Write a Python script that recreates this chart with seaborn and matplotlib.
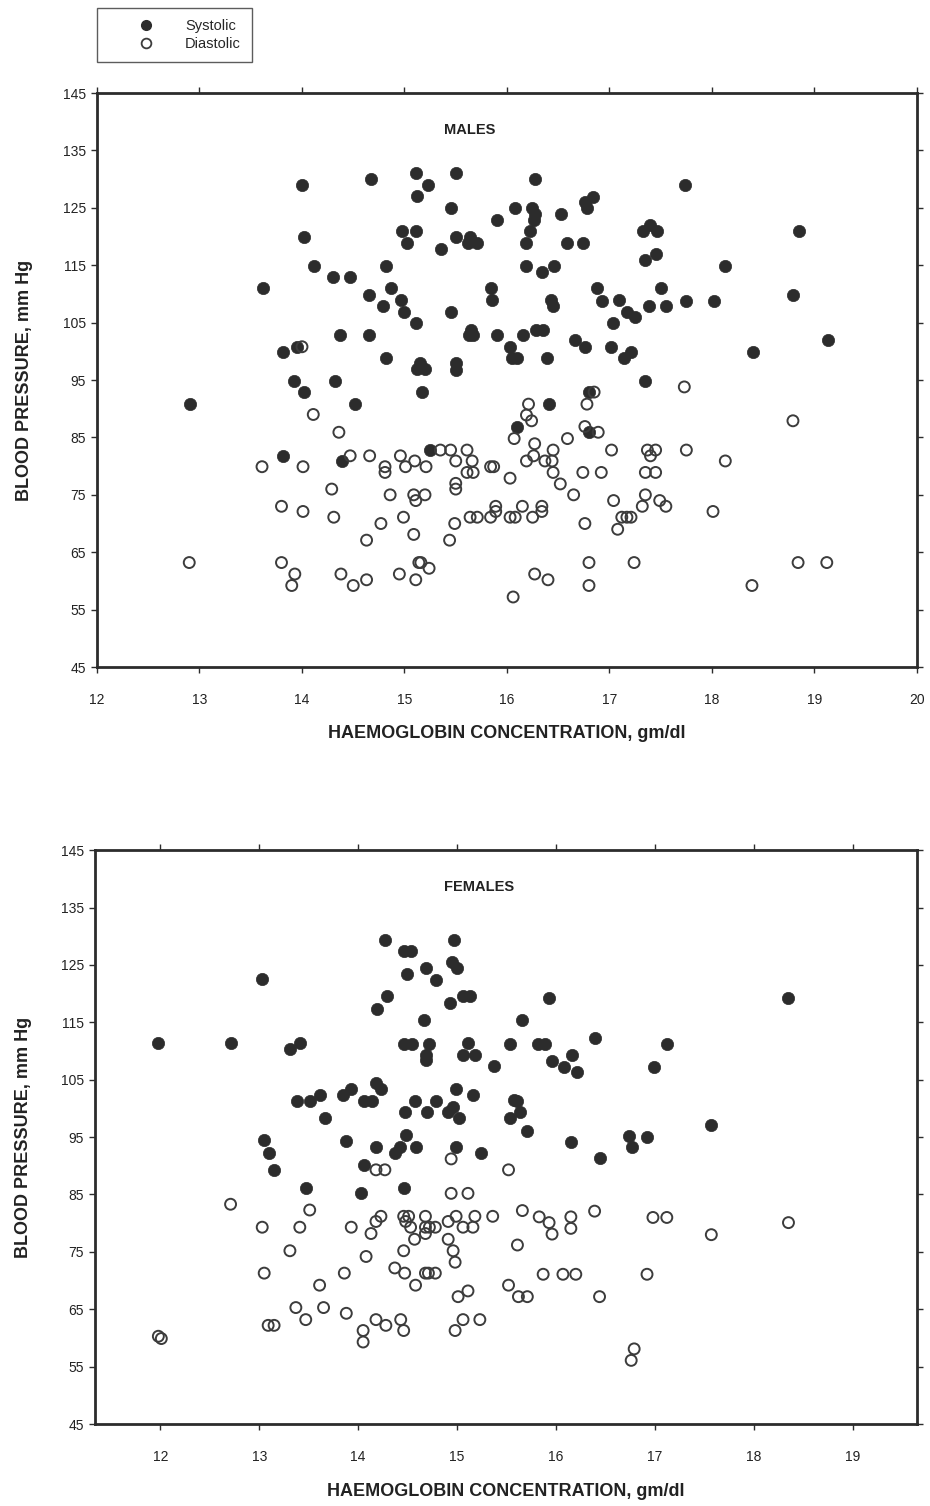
import pandas as pd
import matplotlib.pyplot as plt
import seaborn as sns
from matplotlib.lines import Line2D

# ---- MALES ----
male_sys_hb = [14.00, 14.67, 15.11, 15.23, 15.12, 15.50, 15.45, 16.08, 15.90, 14.98, 15.11, 15.02,
               15.36, 15.50, 15.64, 15.62, 15.71, 14.02, 14.12, 14.30, 14.47, 14.82, 13.62, 14.65,
               14.87, 14.79, 14.97, 15.00, 15.11, 15.45, 15.84, 15.85, 14.37, 14.65, 15.65, 15.63,
               15.67, 15.90, 13.81, 13.95, 14.82, 15.12, 15.20, 15.15, 15.50, 15.50, 16.03, 16.05,
               13.92, 14.32, 14.02, 15.17, 12.91, 14.52,
               16.27, 17.74, 16.24, 16.27, 16.26, 16.53, 16.76, 16.84, 16.78, 16.22, 16.19, 16.59,
               16.74, 17.33, 17.40, 17.46, 17.35, 17.45, 18.85, 18.13, 16.19, 16.34, 16.46, 16.88,
               16.93, 17.09, 17.17, 17.25, 17.50, 17.39, 17.55, 17.75, 18.02, 18.79, 16.43, 16.45,
               17.03, 16.28, 16.35, 16.16, 16.10, 16.39, 16.66, 16.76, 17.01, 17.14, 17.21, 18.40,
               19.13, 17.35, 16.80, 16.41,
               13.81, 14.39, 15.25, 16.10, 16.80]
male_sys_bp = [129.0, 130.0, 131.0, 129.0, 127.0, 131.0, 124.9, 124.9, 122.9, 121.0, 121.0, 118.9,
               117.9, 119.9, 119.9, 118.8, 118.8, 119.9, 114.9, 112.9, 112.9, 114.9, 111.0, 109.9,
               111.0, 107.9, 108.9, 106.9, 104.9, 106.8, 111.0, 108.9, 102.8, 102.8, 103.7, 102.8,
               102.8, 102.8, 99.8, 100.8, 98.8, 97.0, 97.0, 97.9, 97.9, 96.7, 100.8, 98.8,
               94.9, 94.9, 92.9, 92.9, 90.8, 90.8,
               130.0, 129.0, 124.9, 124.0, 122.9, 123.9, 126.1, 126.9, 124.9, 121.0, 118.9, 118.9,
               118.9, 121.0, 122.0, 121.0, 115.9, 116.9, 121.0, 114.9, 114.9, 113.9, 114.9, 111.0,
               108.8, 108.9, 106.9, 105.9, 111.0, 107.9, 107.9, 108.8, 108.8, 109.8, 108.9, 107.9,
               104.9, 103.7, 103.7, 102.8, 98.8, 98.8, 101.9, 100.8, 100.8, 98.8, 99.8, 99.8,
               101.9, 94.9, 92.9, 90.8,
               81.8, 80.9, 82.8, 86.9, 85.9]

male_dia_hb = [14.00, 16.21, 16.78, 17.73, 16.85,
               14.11, 14.36, 14.47, 14.66, 13.61, 14.01, 14.81, 14.81, 14.96, 15.01, 15.10, 15.21,
               15.35, 15.45, 15.61, 15.50, 15.66, 15.61, 15.67, 15.84, 15.87, 16.03, 16.07, 14.29,
               14.86, 15.09, 15.11, 15.20, 15.50, 15.50, 13.80, 14.01, 14.31, 14.77, 14.99, 15.09,
               15.49, 15.44, 15.64, 15.71, 15.84, 15.89, 15.89, 16.03, 16.08, 14.63, 12.90, 13.80,
               13.93, 13.90, 14.38, 14.50, 14.63, 14.95, 15.11, 15.14, 15.16, 15.24, 16.06,
               18.79, 16.19, 16.24, 16.76, 16.89, 16.27, 16.59, 16.45, 16.26, 16.19, 16.37, 16.44,
               17.02, 17.37, 17.45, 17.40, 17.75, 18.13, 16.45, 16.52, 16.74, 16.92, 17.35, 17.45,
               16.65, 17.04, 17.35, 17.49, 17.55, 17.32, 16.15, 16.34, 16.34, 16.25, 16.76, 17.08,
               17.12, 17.17, 17.21, 18.01, 16.80, 17.24, 18.84, 19.12, 16.27, 16.40, 16.80, 18.39]
male_dia_bp = [100.8, 90.8, 90.8, 93.8, 92.9,
               89.0, 85.9, 81.8, 81.8, 79.9, 79.9, 79.9, 78.9, 81.8, 79.9, 80.9, 79.9,
               82.8, 82.8, 82.8, 80.9, 80.9, 78.9, 78.9, 79.9, 79.9, 77.9, 84.8, 76.0,
               75.0, 75.0, 74.0, 75.0, 77.0, 76.0, 73.0, 72.1, 71.1, 70.0, 71.1, 68.1,
               70.0, 67.1, 71.1, 71.1, 71.1, 73.0, 72.1, 71.1, 71.1, 67.1, 63.2, 63.2,
               61.2, 59.2, 61.2, 59.2, 60.2, 61.2, 60.2, 63.2, 63.2, 62.2, 57.2,
               87.9, 88.9, 87.9, 86.9, 85.9, 83.9, 84.8, 82.8, 81.8, 80.9, 80.9, 80.9,
               82.8, 82.8, 82.8, 81.8, 82.8, 80.9, 78.9, 76.9, 78.9, 78.9, 78.9, 78.9,
               75.0, 74.0, 75.0, 74.0, 73.0, 73.0, 73.0, 73.0, 72.1, 71.1, 70.0, 69.0,
               71.1, 71.1, 71.1, 72.1, 63.2, 63.2, 63.2, 63.2, 61.2, 60.2, 59.2, 59.2]

# ---- FEMALES ----
fem_sys_hb = [14.27, 14.97, 14.46, 14.53, 14.95, 15.00, 14.49, 14.69, 14.79, 13.03, 14.29, 14.19,
              14.67, 14.93, 15.06, 15.13, 11.98, 12.71, 13.31, 13.41, 14.46, 14.54, 14.72, 14.69,
              14.69, 15.11, 15.06, 15.18, 15.37, 15.53, 13.38, 13.51, 13.61, 13.85, 13.93, 14.06,
              14.14, 14.18, 14.23, 13.66, 14.57, 14.47, 14.70, 14.79, 14.99, 14.91, 14.96, 15.02,
              15.16, 15.53, 15.58, 13.05, 13.10, 13.88, 14.18, 14.48, 14.42, 14.37, 14.58, 14.99,
              15.24,
              15.93, 18.35, 15.66, 15.82, 15.89, 16.39, 17.12, 15.96, 16.08, 16.16, 16.21, 16.99,
              15.61, 15.64, 15.71, 16.15, 16.74, 16.77, 16.92, 17.57, 16.44,
              13.15, 14.06, 13.47, 14.03, 14.46]
fem_sys_bp = [129.4, 129.4, 127.5, 127.5, 125.5, 124.4, 123.4, 124.4, 122.4, 122.5, 119.5, 117.4,
              115.4, 118.4, 119.5, 119.5, 111.4, 111.4, 110.4, 111.4, 111.3, 111.3, 111.3, 109.3,
              108.4, 111.4, 109.3, 109.3, 107.4, 111.3, 101.3, 101.3, 102.4, 102.4, 103.4, 101.3,
              101.3, 104.5, 103.4, 98.3, 101.3, 99.3, 99.3, 101.3, 103.4, 99.3, 100.3, 98.3,
              102.3, 98.3, 101.4, 94.5, 92.2, 94.4, 93.3, 95.4, 93.3, 92.2, 93.3, 93.3,
              92.2,
              119.3, 119.2, 115.4, 111.3, 111.3, 112.3, 111.3, 108.2, 107.3, 109.3, 106.3, 107.3,
              101.3, 99.3, 96.1, 94.1, 95.2, 93.2, 95.1, 97.1, 91.3,
              89.3, 90.2, 86.2, 85.3, 86.2]

fem_dia_hb = [14.94, 14.18, 14.27, 15.52, 12.71, 13.51, 13.03, 13.41, 13.93, 14.13, 14.18, 14.23,
              14.46, 14.51, 14.48, 14.53, 14.57, 14.68, 14.68, 14.68, 14.72, 14.78, 14.94, 15.11,
              14.91, 14.99, 14.91, 15.06, 15.16, 15.18, 15.36, 14.96, 14.98, 14.46, 13.31, 14.08,
              13.05, 13.86, 14.37, 14.47, 14.68, 14.71, 14.78, 13.61, 14.58, 15.52, 15.01, 15.11,
              13.37, 13.65, 13.47, 13.88, 13.09, 13.15, 14.18, 14.28, 14.43, 14.46, 14.05, 14.05,
              14.98, 15.06, 15.23, 11.98, 12.01,
              15.66, 15.83, 15.93, 15.96, 16.15, 16.15, 16.39, 16.98, 17.12, 17.57, 18.35, 15.61,
              15.87, 16.07, 16.20, 16.92, 15.62, 15.71, 16.44, 16.79, 16.76]
fem_dia_bp = [91.2, 89.3, 89.3, 89.3, 83.3, 82.3, 79.3, 79.3, 79.3, 78.2, 80.3, 81.2,
              81.2, 81.2, 80.3, 79.3, 77.2, 81.2, 79.3, 78.2, 79.3, 79.3, 85.2, 85.2,
              80.3, 81.2, 77.2, 79.3, 79.3, 81.2, 81.2, 75.2, 73.2, 75.2, 75.2, 74.2,
              71.3, 71.3, 72.2, 71.3, 71.3, 71.3, 71.3, 69.2, 69.2, 69.2, 67.2, 68.2,
              65.3, 65.3, 63.2, 64.3, 62.2, 62.2, 63.2, 62.2, 63.2, 61.3, 61.3, 59.3,
              61.3, 63.2, 63.2, 60.3, 59.9,
              82.2, 81.1, 80.1, 78.1, 81.1, 79.1, 82.1, 81.0, 81.0, 78.0, 80.1, 76.2,
              71.1, 71.1, 71.1, 71.1, 67.2, 67.2, 67.2, 58.1, 56.1]

yticks = list(range(45, 146, 10))

sns.set_theme(style="white")
plt.rcParams['font.family'] = ['Liberation Sans', 'DejaVu Sans']

fig = plt.figure(figsize=(9.3, 15.06), dpi=100)
ax1 = fig.add_axes([0.1043, 0.5571, 0.8817, 0.3811])
ax2 = fig.add_axes([0.1022, 0.0544, 0.8839, 0.3811])

dark = '#2c2c2c'


def panel(ax, sys_hb, sys_bp, dia_hb, dia_bp, title, tx, xlim, xticks):
    sns.scatterplot(x=sys_hb, y=sys_bp, ax=ax, s=78, color=dark, edgecolor=dark,
                    linewidth=0.5, zorder=3)
    sns.scatterplot(x=dia_hb, y=dia_bp, ax=ax, s=62, facecolor='none', edgecolor='#3c3c3c',
                    linewidth=1.4, zorder=3)
    ax.set_xlim(xlim)
    ax.set_ylim(45, 145)
    ax.set_xticks(xticks)
    ax.set_yticks(yticks)
    ax.tick_params(axis='both', labelsize=10, direction='out', length=4, width=1,
                   colors=dark, top=True, right=True, bottom=True, left=True)
    ax.tick_params(axis='x', pad=15)
    ax.tick_params(axis='y', pad=4)
    for lab in ax.get_xticklabels() + ax.get_yticklabels():
        lab.set_color('#222222')
    for sp in ax.spines.values():
        sp.set_linewidth(2.0)
        sp.set_color(dark)
    ax.set_xlabel('HAEMOGLOBIN CONCENTRATION, gm/dl', fontsize=13, fontweight='bold',
                  color='#222222', labelpad=13)
    ax.set_ylabel('BLOOD PRESSURE, mm Hg', fontsize=13, fontweight='bold',
                  color='#222222', labelpad=21)
    ax.text(tx, 0.935, title, transform=ax.transAxes,
            ha='center', va='center', fontsize=10.5, fontweight='bold', color='#222222')


panel(ax1, male_sys_hb, male_sys_bp, male_dia_hb, male_dia_bp, 'MALES', 0.455,
      (12, 20), list(range(12, 21)))
panel(ax2, fem_sys_hb, fem_sys_bp, fem_dia_hb, fem_dia_bp, 'FEMALES', 0.467,
      (11.34, 19.65), list(range(12, 20)))

handles = [
    Line2D([], [], marker='o', linestyle='none', markersize=7, color=dark, label='Systolic'),
    Line2D([], [], marker='o', linestyle='none', markersize=7, markerfacecolor='none',
           markeredgecolor='#3c3c3c', markeredgewidth=1.3, label='Diastolic'),
]
leg = fig.legend(handles=handles, loc='upper left', bbox_to_anchor=(0.1043, 0.9947),
                 fontsize=10.5, frameon=True, fancybox=False, edgecolor='#333333',
                 borderpad=0.75, handlelength=5.2, handletextpad=0.1, labelspacing=0.3,
                 borderaxespad=0)
leg.get_frame().set_linewidth(1.0)

fig.savefig('out.png', dpi=100)
